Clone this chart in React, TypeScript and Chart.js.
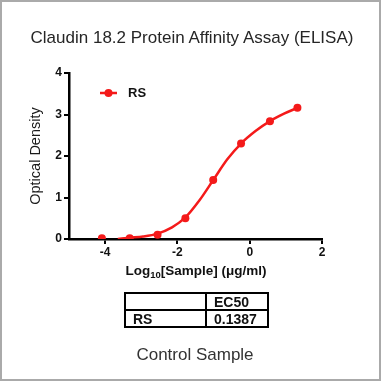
import React, { useEffect, useRef } from "react";
import { Chart, registerables } from "chart.js";

Chart.register(...registerables);

const chartTitle = "Claudin 18.2 Protein Affinity Assay (ELISA)";
const yAxisTitle = "Optical Density";
const footerText = "Control Sample";
const seriesName = "RS";
const ec50Label = "EC50";
const ec50Value = "0.1387";

// measured points (log10 concentration, OD)
const pointsX = [-4.09, -3.32, -2.55, -1.78, -1.01, -0.24, 0.56, 1.32];
const pointsY = [0.02, 0.02, 0.1, 0.5, 1.42, 2.3, 2.84, 3.16];

// fitted curve
const curveX = [-3.65, -3.32, -2.95, -2.55, -2.15, -1.78, -1.4, -1.01, -0.62, -0.24, 0.16, 0.56, 0.95, 1.32];
const curveY = [0.0, 0.03, 0.06, 0.13, 0.28, 0.52, 0.92, 1.42, 1.92, 2.3, 2.6, 2.84, 3.02, 3.16];

const xTickValues = [-4, -2, 0, 2];
const yTickValues = [0, 1, 2, 3, 4];

const RED = "#f41a1a";
const FONT = "'Liberation Sans', Arial, Helvetica, sans-serif";

const legendPlugin = {
  id: "customLegend",
  afterDraw(chart: any) {
    const { ctx, chartArea } = chart;
    const y = chartArea.top + 20;
    const x1 = chartArea.left + 31;
    const x2 = chartArea.left + 48;
    ctx.save();
    ctx.strokeStyle = RED;
    ctx.lineWidth = 2.5;
    ctx.beginPath();
    ctx.moveTo(x1, y);
    ctx.lineTo(x2, y);
    ctx.stroke();
    ctx.fillStyle = RED;
    ctx.beginPath();
    ctx.arc((x1 + x2) / 2, y, 4, 0, Math.PI * 2);
    ctx.fill();
    ctx.fillStyle = "#111";
    ctx.font = `bold 13px ${FONT}`;
    ctx.textBaseline = "middle";
    ctx.textAlign = "left";
    ctx.fillText(seriesName, chartArea.left + 59, y + 0.5);
    ctx.restore();
  },
};

export default function App() {
  const canvasRef = useRef<HTMLCanvasElement | null>(null);

  useEffect(() => {
    document.body.style.margin = "0";
    const canvas = canvasRef.current;
    if (!canvas) return;
    const chart = new Chart(canvas, {
      type: "line",
      data: {
        datasets: [
          {
            label: seriesName + " fit",
            data: curveX.map((x, i) => ({ x, y: curveY[i] })),
            borderColor: RED,
            borderWidth: 2.5,
            pointRadius: 0,
            cubicInterpolationMode: "monotone",
            fill: false,
          },
          {
            label: seriesName,
            data: pointsX.map((x, i) => ({ x, y: pointsY[i] })),
            showLine: false,
            pointRadius: 4,
            pointBackgroundColor: RED,
            pointBorderColor: RED,
            pointBorderWidth: 0,
          },
        ],
      },
      options: {
        responsive: false,
        animation: false,
        layout: { padding: { left: 0, top: 73, right: 59, bottom: 118 } },
        plugins: {
          legend: { display: false },
          tooltip: { enabled: false },
          title: { display: false },
        },
        scales: {
          x: {
            type: "linear",
            min: -5,
            max: 2,
            afterBuildTicks: (s: any) => {
              s.ticks = xTickValues.map((v) => ({ value: v }));
            },
            afterFit: (s: any) => {
              s.height = 24;
            },
            grid: {
              display: true,
              drawOnChartArea: false,
              drawTicks: true,
              tickLength: 5,
              color: "#000",
              lineWidth: 2,
            },
            border: { display: true, color: "#000", width: 2.5 },
            ticks: {
              color: "#111",
              font: { family: FONT, size: 12, weight: "bold" },
              padding: 1,
              maxRotation: 0,
            },
          },
          y: {
            type: "linear",
            min: 0,
            max: 4,
            afterBuildTicks: (s: any) => {
              s.ticks = yTickValues.map((v) => ({ value: v }));
            },
            afterFit: (s: any) => {
              s.width = 69;
            },
            grid: {
              display: true,
              drawOnChartArea: false,
              drawTicks: true,
              tickLength: 5,
              color: "#000",
              lineWidth: 2,
            },
            border: { display: true, color: "#000", width: 2.5 },
            ticks: {
              color: "#111",
              font: { family: FONT, size: 12, weight: "bold" },
              padding: 2,
            },
            title: {
              display: true,
              text: yAxisTitle,
              color: "#1a1a1a",
              font: { family: FONT, size: 14.5, weight: "normal" },
              padding: { top: 27, bottom: 0 },
            },
          },
        },
      },
      plugins: [legendPlugin],
    } as any);
    return () => chart.destroy();
  }, []);

  const cell: React.CSSProperties = {
    border: "2px solid #000",
    padding: "0 0 0 7px",
    textAlign: "left",
    fontWeight: "bold",
    fontSize: 14,
    color: "#111",
    lineHeight: "14px",
  };

  return (
    <div
      style={{
        position: "fixed",
        left: 0,
        top: 0,
        width: 381,
        height: 381,
        background: "#fff",
        fontFamily: FONT,
        overflow: "hidden",
      }}
    >
      <canvas
        ref={canvasRef}
        width={381}
        height={381}
        style={{ position: "absolute", left: 0, top: 0, width: 381, height: 381 }}
      />
      <div
        style={{
          position: "absolute",
          left: 0,
          top: 28,
          width: 384,
          textAlign: "center",
          fontSize: 17,
          color: "#262626",
          whiteSpace: "nowrap",
        }}
      >
        {chartTitle}
      </div>
      <div
        style={{
          position: "absolute",
          left: 0,
          top: 263,
          width: 392,
          textAlign: "center",
          fontSize: 13.5,
          fontWeight: "bold",
          color: "#111",
          whiteSpace: "nowrap",
        }}
      >
        Log<span style={{ fontSize: 9.5, position: "relative", top: 3 }}>10</span>[Sample] (μg/ml)
      </div>
      <table
        style={{
          position: "absolute",
          left: 124,
          top: 292,
          width: 145,
          borderCollapse: "collapse",
          tableLayout: "fixed",
        }}
      >
        <tbody>
          <tr style={{ height: 17 }}>
            <td style={{ ...cell, width: 72 }}></td>
            <td style={cell}>{ec50Label}</td>
          </tr>
          <tr style={{ height: 17 }}>
            <td style={cell}>{seriesName}</td>
            <td style={cell}>{ec50Value}</td>
          </tr>
        </tbody>
      </table>
      <div
        style={{
          position: "absolute",
          left: 0,
          top: 345,
          width: 390,
          textAlign: "center",
          fontSize: 17,
          color: "#333",
          whiteSpace: "nowrap",
        }}
      >
        {footerText}
      </div>
      <div
        style={{
          position: "absolute",
          left: 0,
          top: 0,
          width: 381,
          height: 381,
          boxSizing: "border-box",
          border: "2px solid #aaa",
          pointerEvents: "none",
        }}
      />
    </div>
  );
}
